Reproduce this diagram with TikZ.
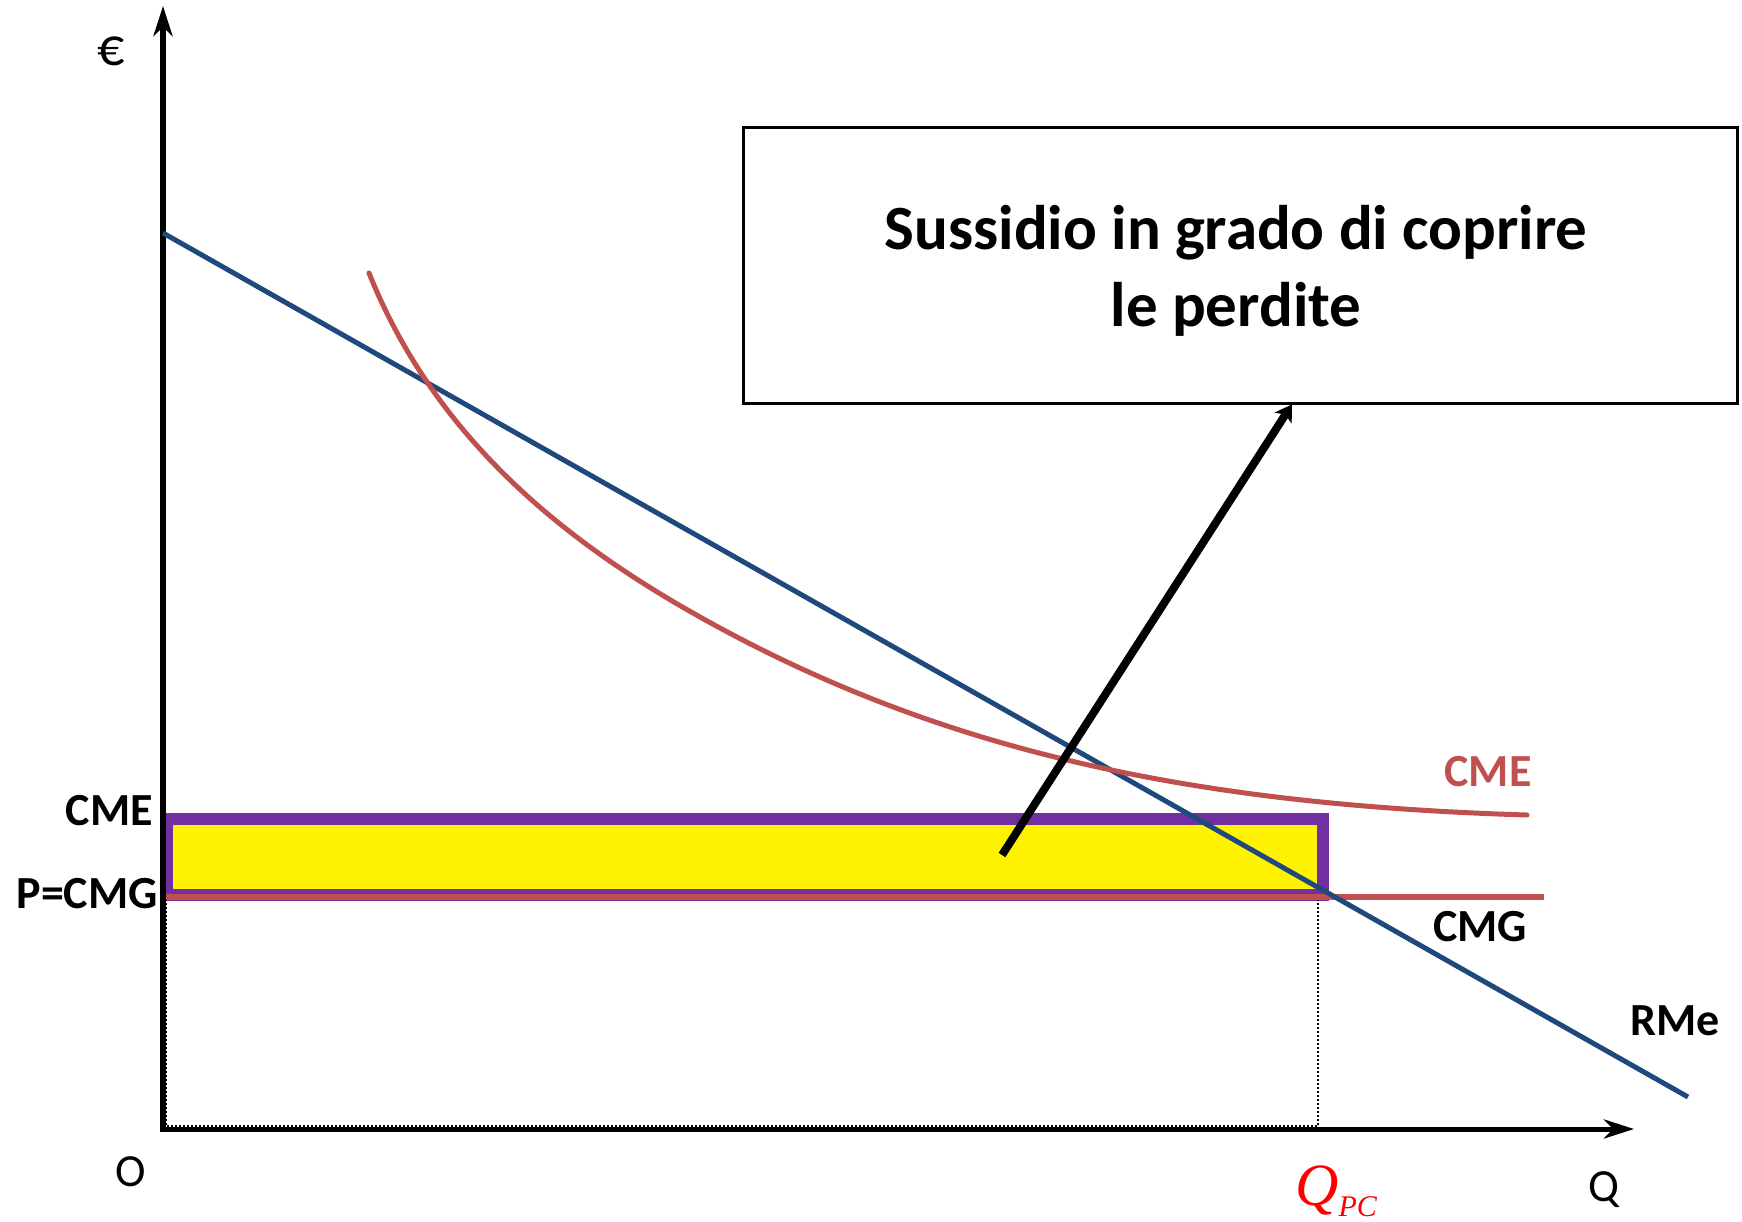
\documentclass[tikz,border=0pt]{standalone}
\usepackage{fontspec}
\setmainfont{Carlito}
\newfontfamily\tms{Liberation Serif}
\usetikzlibrary{arrows.meta,calc}
\definecolor{rmeblue}{HTML}{1F497D}
\definecolor{cmered}{HTML}{C0504D}
\definecolor{rectpurple}{HTML}{7030A0}
\begin{document}
\begin{tikzpicture}[x=1pt,y=-1pt,
  lbl/.style={font=\fontsize{46}{50}\selectfont\bfseries, inner sep=0pt},
  axlbl/.style={font=\fontsize{46}{50}\selectfont, inner sep=0pt},
  axisline/.style={line width=#1, -{Stealth[length=30pt,width=19pt,inset=9pt]}},
  costcurve/.style={cmered, line width=5pt, line cap=round},
  revline/.style={rmeblue, line width=5pt},
  guide/.style={black, line width=2pt, dotted},
  arrowline/.style={line width=8pt, -{Stealth[length=16pt,width=20pt,inset=4pt]}},
  framebox/.style={draw, line width=3pt, minimum width=994pt, minimum height=275pt, inner sep=0pt}]
\useasboundingbox (0,0) rectangle (1742,1222);
% subsidy rectangle
\filldraw[fill=yellow, draw=rectpurple, line width=12pt] (166.5,819) rectangle (1322.5,895);
% guides
\draw[guide] (166,899) -- (166,1126) -- (1318,1126) -- (1318,899);
% CMG line
\draw[cmered, line width=6pt] (160,897) -- (1544,897);
% axes
\coordinate (O) at (163,1129);
\coordinate (ytop) at (163,6);
\coordinate (xend) at (1634,1129);
\draw[axisline=6pt] (163,1132) -- (ytop);
\draw[axisline=5pt] (160,1129) -- (xend);
% RMe line
\coordinate (rmeA) at (163,233);
\coordinate (rmeB) at (1688,1097);
\draw[revline] (rmeA) -- (rmeB);
% CME curve
\draw[costcurve] (369,273) .. controls (439,448) and (580,549.8) .. (700,617) .. controls (930,745.8) and (1177,804.5) .. (1527,815);
% box
\node[framebox] (box) at (1240,265.5) {};
\node[font=\fontsize{63}{77}\selectfont\bfseries, align=center, inner sep=0pt] (boxtxt) at (1236,271) {Sussidio in grado di coprire\\le perdite};
% arrow
\coordinate (tail) at (1002,855);
\draw[arrowline] (tail) -- ($(box.south west)!0.552!(box.south east)$);
% labels
\node[axlbl, font=\fontsize{54}{56}\selectfont] (euro) at (111,51) {€};
\node[lbl, anchor=east] (cmeL) at (153,811) {CME};
\node[lbl, anchor=east] (pcmg) at (158,894) {P=CMG};
\node[axlbl] (olbl) at (131,1172) {O};
\node[axlbl] (qlbl) at (1604,1190) {Q};
\node[anchor=base west, inner sep=0pt, text=red, font=\tms\itshape\fontsize{60}{60}\selectfont] (qpc) at (1295,1205) {Q\raisebox{-11pt}{\fontsize{30}{30}\selectfont PC}};
\node[lbl] (cmgR) at (1480,927) {CMG};
\node[lbl] (rme) at (1675,1021) {RMe};
\node[lbl, text=cmered] (cmeR) at (1488,772) {CME};
\end{tikzpicture}
\end{document}
